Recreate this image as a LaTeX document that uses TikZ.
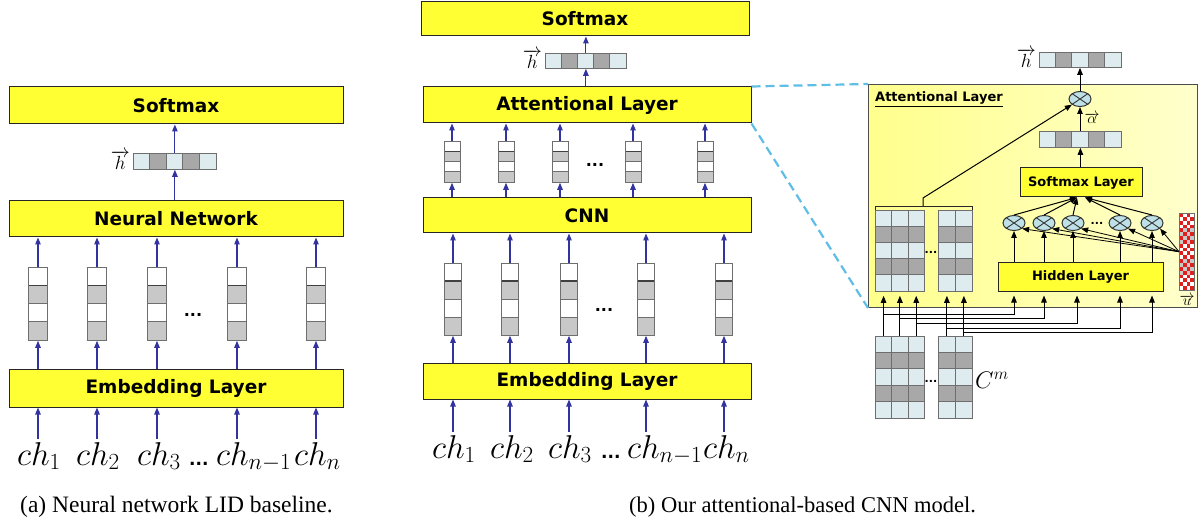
\RequirePackage{fix-cm}
\documentclass[tikz,border=0pt]{standalone}
\usepackage{fontspec}
\setmainfont{Liberation Serif}
\newfontfamily\vfont{DejaVu Sans}
\usetikzlibrary{arrows.meta,shapes.geometric,calc}
\definecolor{ybox}{RGB}{255,255,51}
\definecolor{barrow}{RGB}{51,51,160}
\definecolor{cgray}{RGB}{200,200,200}
\definecolor{cline}{RGB}{110,110,110}
\definecolor{hlt}{RGB}{222,236,240}
\definecolor{hdk}{RGB}{168,168,168}
\definecolor{dblue}{RGB}{95,190,230}
\definecolor{ured}{RGB}{225,30,30}
\definecolor{oblue}{RGB}{190,225,232}
\definecolor{panL}{RGB}{255,255,140}
\definecolor{panR}{RGB}{255,255,205}

\tikzset{
 layerbox/.style={draw=black!85, line width=1pt, fill=ybox, inner sep=0pt, font=\vfont\bfseries\fontsize{18.5}{20}\selectfont},
 smallbox/.style={layerbox, font=\vfont\bfseries\fontsize{13}{15}\selectfont},
 barr/.style={draw=barrow, line width=1.1pt, -{Triangle[length=7pt,width=5.5pt]}},
 karr/.style={draw=black, line width=1pt, -{Triangle[length=7pt,width=5.5pt]}},
 kline/.style={draw=black!85, line width=0.9pt},
 cellln/.style={draw=cline, line width=0.8pt},
 otim/.style={ellipse, draw=black!80, line width=1pt, fill=oblue, minimum width=22pt, minimum height=15pt, inner sep=0pt,
   path picture={\draw[black!80,line width=0.9pt] (path picture bounding box.north west)--(path picture bounding box.south east) (path picture bounding box.south west)--(path picture bounding box.north east);}},
 chlab/.style={inner sep=3pt, anchor=base west, font=\fontsize{33}{35}\selectfont},
 hlab/.style={inner sep=0pt, anchor=base east, font=\fontsize{19}{21}\selectfont},
 dotlab/.style={inner sep=0pt, anchor=base, font=\vfont\bfseries\fontsize{16}{18}\selectfont},
 captxt/.style={anchor=base west, inner sep=0pt, font=\fontsize{22.5}{24}\selectfont},
 dashblue/.style={draw=dblue, line width=2.2pt, dash pattern=on 9pt off 5pt},
}

% vertical 4-cell vector: name, center x, top y, width, cell height
\newcommand\cvec[5]{%
  \fill[white] ({#2-#4/2},#3) rectangle ({#2+#4/2},{#3+4*#5});
  \fill[cgray] ({#2-#4/2},{#3+#5}) rectangle ({#2+#4/2},{#3+2*#5});
  \fill[cgray] ({#2-#4/2},{#3+3*#5}) rectangle ({#2+#4/2},{#3+4*#5});
  \draw[cellln] ({#2-#4/2},{#3+2*#5}) -- ({#2+#4/2},{#3+2*#5}) ({#2-#4/2},{#3+3*#5}) -- ({#2+#4/2},{#3+3*#5});
  \draw[draw=black!75, line width=1.1pt] ({#2-#4/2},{#3+#5}) -- ({#2+#4/2},{#3+#5});
  \pgfmathsetmacro\vh{4*#5}
  \node[draw=cline, line width=0.8pt, inner sep=0pt, minimum width=#4pt, minimum height=\vh pt, anchor=north] (#1) at (#2,#3) {};
}
% horizontal 5-cell vector: name, left x, top y, cell width, height
\newcommand\hvec[5]{%
  \foreach \kk in {0,...,4}{\ifodd\kk \def\cc{hdk}\else\def\cc{hlt}\fi
     \fill[\cc] ({#2+\kk*#4},#3) rectangle ({#2+(\kk+1)*#4},{#3+#5});}
  \foreach \kk in {1,...,4}{\draw[cellln] ({#2+\kk*#4},#3) -- ({#2+\kk*#4},{#3+#5});}
  \pgfmathsetmacro\vw{5*#4}
  \node[draw=cline, line width=0.8pt, inner sep=0pt, minimum width=\vw pt, minimum height=#5pt, anchor=north west] (#1) at (#2,#3) {};
}
% vertical 5-cell matrix column: name, left x, top y, cell width, cell height
\newcommand\mcol[5]{%
  \foreach \kk in {0,...,4}{\ifodd\kk \def\cc{hdk}\else\def\cc{hlt}\fi
     \fill[\cc] (#2,{#3+\kk*#5}) rectangle ({#2+#4},{#3+(\kk+1)*#5});}
  \foreach \kk in {1,...,4}{\draw[cellln] (#2,{#3+\kk*#5}) -- ({#2+#4},{#3+\kk*#5});}
  \pgfmathsetmacro\vh{5*#5}
  \node[draw=cline, line width=0.8pt, inner sep=0pt, minimum width=#4pt, minimum height=\vh pt, anchor=north west] (#1) at (#2,#3) {};
}

\begin{document}
\begin{tikzpicture}[x=1pt,y=-1pt]
\useasboundingbox (0,0) rectangle (1204,529);

%% ---------------- (a) left panel ----------------
\node[layerbox, minimum width=334pt, minimum height=37pt] (sm1) at (176,105.5) {Softmax};
\node[layerbox, minimum width=334pt, minimum height=36pt] (nn1) at (176,219) {Neural Network};
\node[layerbox, minimum width=334pt, minimum height=38pt] (emb1) at (176,388) {Embedding Layer};
\hvec{h1}{133}{153}{16.6}{16}
\node[hlab] (h1l) at ([xshift=-3pt]h1.south west) {$\overrightarrow{h}$};
\draw[barr] (nn1.north -| h1.south) -- (h1.south);
\draw[barr] (h1.north) -- (sm1.south -| h1.north);
\foreach \n/\x in {a/38,b/97,c/157,d/237,e/316}{
  \cvec{lv\n}{\x}{267}{19}{18.25}
  \draw[barr] (lv\n.north) -- (nn1.south -| lv\n.north);
  \draw[barr] (emb1.north -| lv\n.south) -- (lv\n.south);
}
\node[dotlab] (ldots) at (193,316) {...};
\node[chlab] (cha1) at (14,465) {$ch_1$};
\node[chlab] (cha2) at (73,465) {$ch_2$};
\node[chlab] (cha3) at (134,465) {$ch_3$};
\node[dotlab, anchor=base west, font=\vfont\bfseries\fontsize{17}{19}\selectfont] (chad) at (189,465) {...};
\node[chlab] (cha4) at (213,465) {$ch_{n-1}$};
\node[chlab] (cha5) at (291,465) {$ch_n$};
\draw[barr] (cha1.north -| lva.south) -- (emb1.south -| lva.south);
\draw[barr] (cha2.north -| lvb.south) -- (emb1.south -| lvb.south);
\draw[barr] (cha3.north -| lvc.south) -- (emb1.south -| lvc.south);
\draw[barr] (cha4.north -| lvd.south) -- (emb1.south -| lvd.south);
\draw[barr] (cha5.north -| lve.south) -- (emb1.south -| lve.south);
\node[captxt, font=\fontsize{23.5}{25}\selectfont] (capa) at (20,512) {(a) Neural network LID baseline.};

%% ---------------- (b) middle panel ----------------
\node[layerbox, minimum width=328pt, minimum height=34pt] (sm2) at (585,19) {Softmax};
\hvec{h2}{545}{53}{16.2}{15}
\node[hlab] (h2l) at ([xshift=-3pt]h2.south west) {$\overrightarrow{h}$};
\node[layerbox, minimum width=328pt, minimum height=36pt] (attn) at (587,105) {Attentional Layer};
\node[layerbox, minimum width=328pt, minimum height=35pt] (cnn) at (587,215.5) {CNN};
\node[layerbox, minimum width=328pt, minimum height=36pt] (emb2) at (587,381) {Embedding Layer};
\draw[barr] (attn.north -| h2.south) -- (h2.south);
\draw[barr] (h2.north) -- (sm2.south -| h2.north);
\foreach \n/\x in {a/452,b/506,c/560,d/633,e/705}{
  \cvec{sv\n}{\x}{141}{16}{10.25}
  \draw[barr] (sv\n.north) -- (attn.south -| sv\n.north);
  \draw[barr] (cnn.north -| sv\n.south) -- (sv\n.south);
}
\node[dotlab] (sdots) at (595,167) {...};
\foreach \n/\x in {a/453,b/510,c/569,d/646,e/724}{
  \cvec{mv\n}{\x}{263}{17}{18}
  \draw[barr] (mv\n.north) -- (cnn.south -| mv\n.north);
  \draw[barr] (emb2.north -| mv\n.south) -- (mv\n.south);
}
\node[dotlab] (mdots) at (604,311) {...};
\node[chlab] (chb1) at (429,458) {$ch_1$};
\node[chlab] (chb2) at (487,458) {$ch_2$};
\node[chlab] (chb3) at (545,458) {$ch_3$};
\node[dotlab, anchor=base west, font=\vfont\bfseries\fontsize{17}{19}\selectfont] (chbd) at (601,458) {...};
\node[chlab] (chb4) at (624,458) {$ch_{n-1}$};
\node[chlab] (chb5) at (700,458) {$ch_n$};
\draw[barr] (chb1.north -| mva.south) -- (emb2.south -| mva.south);
\draw[barr] (chb2.north -| mvb.south) -- (emb2.south -| mvb.south);
\draw[barr] (chb3.north -| mvc.south) -- (emb2.south -| mvc.south);
\draw[barr] (chb4.north -| mvd.south) -- (emb2.south -| mvd.south);
\draw[barr] (chb5.north -| mve.south) -- (emb2.south -| mve.south);
\node[captxt] (capb) at (629,512) {(b) Our attentional-based CNN model.};

%% ---------------- right panel ----------------
\node[draw=black!70, line width=1pt, left color=panL, right color=panR, minimum width=329pt, minimum height=223pt, inner sep=0pt, anchor=north west] (rbox) at (868,84) {};
\draw[dashblue] (attn.north east) -- (rbox.north west);
\draw[dashblue] (attn.south east) -- (rbox.south west);
\node[anchor=base west, inner sep=0pt, font=\vfont\bfseries\fontsize{13}{15}\selectfont] (rtitle) at (875,102) {\underline{Attentional Layer}};

\hvec{hr}{1039}{52}{16.4}{15}
\node[hlab] (hrl) at ([xshift=-3pt]hr.south west) {$\overrightarrow{h}$};
\node[otim] (otop) at (1080,99) {};
\hvec{al}{1039}{131}{16.4}{16}
\node[inner sep=0pt, font=\fontsize{15}{17}\selectfont] (all) at (1092,118) {$\overrightarrow{\alpha}$};
\node[smallbox, minimum width=122pt, minimum height=29pt] (sml) at (1081,182.5) {Softmax Layer};
\node[smallbox, minimum width=165pt, minimum height=28pt] (hid) at (1080.5,277) {Hidden Layer};
\draw[karr] (otop.north) -- (hr.south -| otop.north);
\draw[karr] (al.north -| otop.south) -- (otop.south);
\draw[karr] (sml.north -| al.south) -- (al.south);

% upper matrix
\mcol{um1}{875}{210}{16.33}{16.2}
\mcol{um2}{891.33}{210}{16.33}{16.2}
\mcol{um3}{907.67}{210}{16.33}{16.2}
\mcol{um4}{938}{210}{17}{16.2}
\mcol{um5}{955}{210}{17}{16.2}
\node[dotlab, font=\vfont\bfseries\fontsize{11}{13}\selectfont] (umd) at (931,254) {...};
% bracket
\draw[kline] (um1.north west) -- ++(0,-4) -| (um5.north east);
\coordinate (brm) at (923,206);
\draw[karr] (brm) -- ++(0,-8) -- (otop.south west);

% circles
\node[otim] (o1) at (1014,223) {};
\node[otim] (o2) at (1044,223) {};
\node[otim] (o3) at (1073,223) {};
\node[otim] (o4) at (1120,223) {};
\node[otim] (o5) at (1152,223) {};
\node[dotlab, font=\vfont\bfseries\fontsize{11}{13}\selectfont] (od) at (1097,225) {...};
\foreach \k in {1,2,3,4,5}{
  \draw[karr] (hid.north -| o\k.south) -- (o\k.south);
}
\draw[karr] (o1.north) -- ([xshift=-4pt]sml.south);
\draw[karr] (o2.north) -- ([xshift=-4pt]sml.south);
\draw[karr] (o3.north) -- ([xshift=-4pt]sml.south);
\draw[karr] (o4.north) -- ([xshift=4pt]sml.south);
\draw[karr] (o5.north) -- ([xshift=4pt]sml.south);

% u vector
\node[inner sep=0pt, minimum width=15pt, minimum height=77pt, anchor=north west] (u) at (1179,213) {};
\foreach \s in {0,...,4}{\ifodd\s \def\cc{cgray}\else\def\cc{white}\fi
  \fill[\cc] (1179,{213+\s*15.4}) rectangle (1194,{213+(\s+1)*15.4});}
\foreach \r in {0,...,19}{\foreach \c in {0,...,3}{%
  \ifodd\numexpr\r+\c\relax\else\fill[ured] ({1179+\c*3.75},{213+\r*3.85}) rectangle ++(3.75,3.85);\fi}}
\draw[cline, line width=0.6pt] (u.north west) rectangle (u.south east);
\node[inner sep=0pt, font=\fontsize{15}{17}\selectfont] (ul) at (1187,300) {$\overrightarrow{u}$};
\foreach \k in {1,2,3,4,5}{
  \draw[karr, line width=0.8pt] (u.west) -- (o\k.south east);
}

% lower matrix C^m
\mcol{dm1}{875}{336}{16.33}{16.4}
\mcol{dm2}{891.33}{336}{16.33}{16.4}
\mcol{dm3}{907.67}{336}{16.33}{16.4}
\mcol{dm4}{938}{336}{17}{16.4}
\mcol{dm5}{955}{336}{17}{16.4}
\node[dotlab, font=\vfont\bfseries\fontsize{11}{13}\selectfont] (dmd) at (931,382) {...};
\node[anchor=west, inner sep=0pt, font=\fontsize{24}{26}\selectfont] (cm) at (975,380) {$C^m$};

\foreach \k in {1,...,5}{
  \draw[karr, shorten >=4pt] (dm\k.north) -- (um\k.south);
}
\draw[karr, shorten >=4pt] (dm1.north) -- ++(0,-22) -| (hid.south -| o1.south);
\draw[karr, shorten >=4pt] (dm2.north) -- ++(0,-18) -| (hid.south -| o2.south);
\draw[karr, shorten >=4pt] (dm3.north) -- ++(0,-13) -| ([xshift=4pt]hid.south -| o3.south);
\draw[karr, shorten >=4pt] (dm4.north) -- ++(0,-8) -| (hid.south -| o4.south);
\draw[karr, shorten >=4pt] (dm5.north) -- ++(0,-4) -| (hid.south -| o5.south);
\end{tikzpicture}
\end{document}
